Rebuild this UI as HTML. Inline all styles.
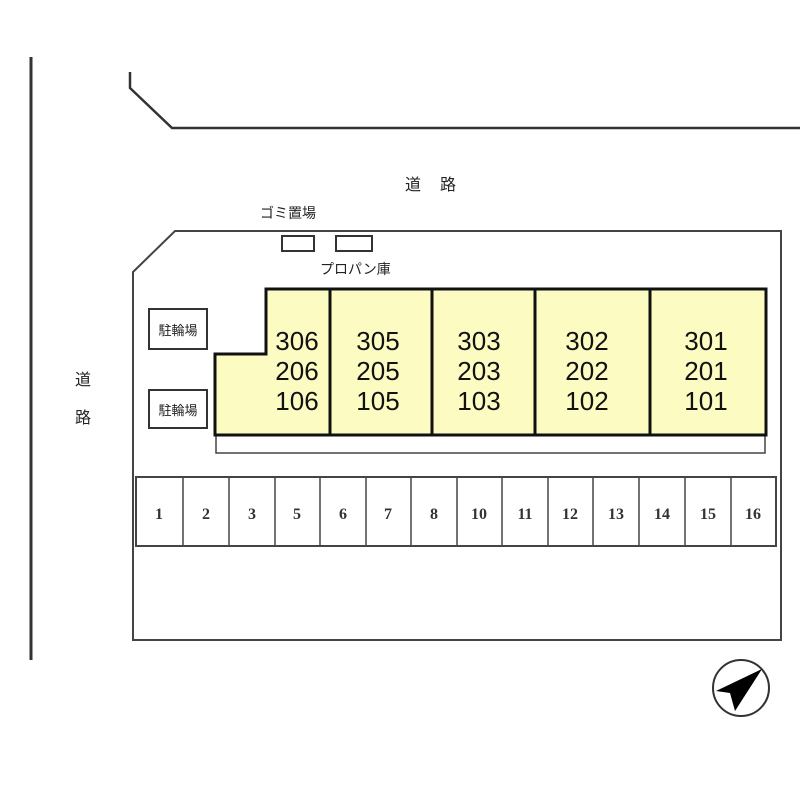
<!DOCTYPE html>
<html><head><meta charset="utf-8"><style>html,body{margin:0;padding:0;background:#fff}</style></head><body>
<svg width="800" height="800" xmlns="http://www.w3.org/2000/svg" font-family="'Liberation Sans','Noto Sans CJK JP',sans-serif">
<rect width="800" height="800" fill="#fff"/>
<line x1="31" y1="57" x2="31" y2="660" stroke="#333" stroke-width="3"/>
<polyline points="130,72 130,88 172,128 800,128" fill="none" stroke="#333" stroke-width="2.5"/>
<text x="405" y="190" font-size="16" fill="#222">道</text><text x="440" y="190" font-size="16" fill="#222">路</text>
<text x="75" y="385" font-size="16" fill="#222">道</text><text x="75" y="423" font-size="16" fill="#222">路</text>
<polygon points="133,272 175,231 781,231 781,640 133,640" fill="none" stroke="#444" stroke-width="2"/>
<text x="260" y="218" font-size="14" fill="#222">ゴミ置場</text>
<rect x="282" y="236" width="32" height="15" fill="#fff" stroke="#333" stroke-width="2"/>
<rect x="336" y="236" width="36" height="15" fill="#fff" stroke="#333" stroke-width="2"/>
<text x="320" y="274" font-size="14" fill="#222">プロパン庫</text>
<rect x="149" y="309" width="58" height="40" fill="#fff" stroke="#333" stroke-width="2"/>
<text x="178" y="335" font-size="13" text-anchor="middle" fill="#222">駐輪場</text>
<rect x="149" y="390" width="58" height="38" fill="#fff" stroke="#333" stroke-width="2"/>
<text x="178" y="415" font-size="13" text-anchor="middle" fill="#222">駐輪場</text>
<rect x="216" y="435" width="549" height="18" fill="#fff" stroke="#444" stroke-width="1.5"/>
<polygon points="266,289 766,289 766,435 215,435 215,354 266,354" fill="#fbfbc2" stroke="#111" stroke-width="3"/>
<g stroke="#111" stroke-width="3"><line x1="330" y1="289" x2="330" y2="435"/><line x1="432" y1="289" x2="432" y2="435"/><line x1="535" y1="289" x2="535" y2="435"/><line x1="650" y1="289" x2="650" y2="435"/></g>
<g font-size="26" text-anchor="middle" fill="#111">
<text x="297" y="350">306</text><text x="297" y="380">206</text><text x="297" y="410">106</text>
<text x="378" y="350">305</text><text x="378" y="380">205</text><text x="378" y="410">105</text>
<text x="479" y="350">303</text><text x="479" y="380">203</text><text x="479" y="410">103</text>
<text x="587" y="350">302</text><text x="587" y="380">202</text><text x="587" y="410">102</text>
<text x="706" y="350">301</text><text x="706" y="380">201</text><text x="706" y="410">101</text>
</g>
<rect x="136" y="477" width="640" height="69" fill="#fff" stroke="#444" stroke-width="2"/>
<g stroke="#444" stroke-width="1.5">
<line x1="183" y1="477" x2="183" y2="546"/><line x1="229" y1="477" x2="229" y2="546"/><line x1="275" y1="477" x2="275" y2="546"/><line x1="320" y1="477" x2="320" y2="546"/><line x1="366" y1="477" x2="366" y2="546"/><line x1="411" y1="477" x2="411" y2="546"/><line x1="457" y1="477" x2="457" y2="546"/><line x1="502" y1="477" x2="502" y2="546"/><line x1="548" y1="477" x2="548" y2="546"/><line x1="593" y1="477" x2="593" y2="546"/><line x1="639" y1="477" x2="639" y2="546"/><line x1="685" y1="477" x2="685" y2="546"/><line x1="731" y1="477" x2="731" y2="546"/>
</g>
<g font-size="16" font-weight="bold" text-anchor="middle" fill="#333" font-family="'Liberation Serif',serif">
<text x="159" y="519">1</text><text x="206" y="519">2</text><text x="252" y="519">3</text><text x="297" y="519">5</text><text x="343" y="519">6</text><text x="388" y="519">7</text><text x="434" y="519">8</text><text x="479" y="519">10</text><text x="525" y="519">11</text><text x="570" y="519">12</text><text x="616" y="519">13</text><text x="662" y="519">14</text><text x="708" y="519">15</text><text x="753" y="519">16</text>
</g>
<circle cx="741" cy="688" r="28" fill="#fff" stroke="#333" stroke-width="2"/>
<polygon points="762,669 716,691 730,693 735,711" fill="#000"/>
</svg>
</body></html>
